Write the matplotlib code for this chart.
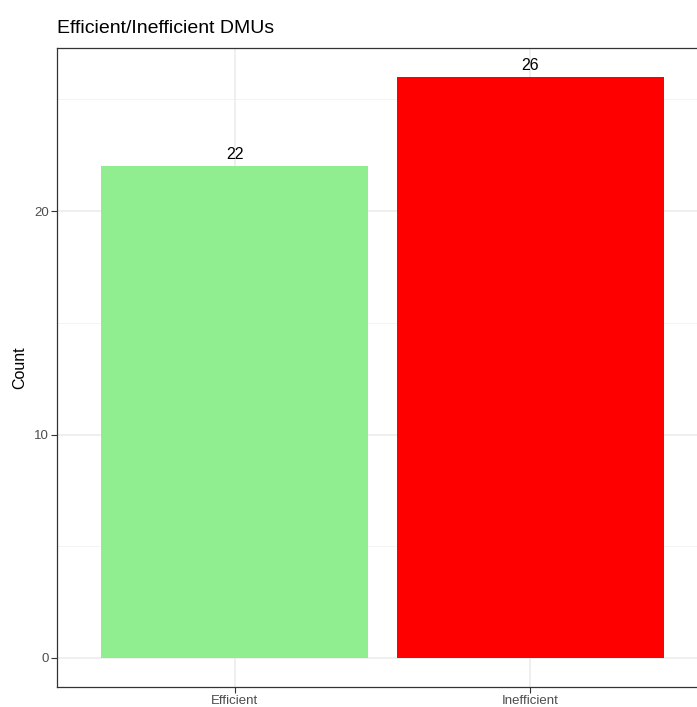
import matplotlib
matplotlib.use("Agg")
import matplotlib.pyplot as plt
from matplotlib.ticker import MultipleLocator

# Data
categories = ["Efficient", "Inefficient"]
counts = [22, 26]
bar_colors = ["#90EE90", "#FF0000"]

plt.rcParams["font.family"] = ["Liberation Sans", "DejaVu Sans"]

W, H = 697, 707
fig = plt.figure(figsize=(W / 100, H / 100), dpi=100)
# panel runs past the right edge of the image, as in the reference
left, right, top, bottom = 57, 708, 48, 687
ax = fig.add_axes([left / W, (H - bottom) / H, (right - left) / W, (bottom - top) / H])

xs = list(range(1, len(categories) + 1))
ax.bar(xs, counts, width=0.9, color=bar_colors, linewidth=0, zorder=2)
for x, c in zip(xs, counts):
    ax.annotate(str(c), (x, c), xytext=(0, 3), textcoords="offset points",
                ha="center", va="bottom", fontsize=11.5, color="black")

ymax = max(counts)
ax.set_ylim(-0.05 * ymax, ymax * 1.05)
ax.set_xlim(0.4, len(categories) + 0.6)
ax.set_xticks(xs)
ax.set_xticklabels(categories)
ax.yaxis.set_major_locator(MultipleLocator(10))
ax.yaxis.set_minor_locator(MultipleLocator(5))

ax.grid(which="major", color="#EBEBEB", linewidth=1.1, zorder=0)
ax.grid(which="minor", axis="y", color="#F2F2F2", linewidth=0.6, zorder=0)
ax.set_axisbelow(True)
for s in ax.spines.values():
    s.set_color("#333333")
    s.set_linewidth(0.9)

ax.tick_params(which="major", length=4, width=0.8, color="#333333",
               labelsize=9.5, labelcolor="#4D4D4D", pad=2)
ax.tick_params(which="minor", length=0)

ax.set_ylabel("Count", fontsize=11.5, labelpad=5)
ax.set_title("Efficient/Inefficient DMUs", loc="left", fontsize=14, pad=11)

fig.savefig("out.png", dpi=100)
plt.close()
